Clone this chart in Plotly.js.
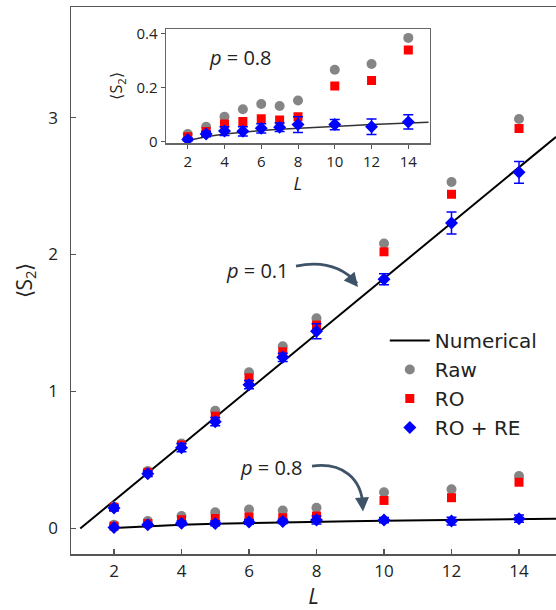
<!DOCTYPE html>
<html>
<head>
<meta charset="utf-8">
<script src="https://cdn.plot.ly/plotly-3.0.1.min.js"></script>
<style>html,body{margin:0;padding:0;background:#fff}#chart{width:556px;height:610px}</style>
</head>
<body>
<div id="chart"></div>
<script>
// ---- data ----
var L = [2, 3, 4, 5, 6, 7, 8, 10, 12, 14];

// p = 0.1
var raw01  = [0.16, 0.42, 0.62, 0.86, 1.14, 1.33, 1.535, 2.08, 2.53, 2.99];
var ro01   = [0.155, 0.41, 0.61, 0.82, 1.10, 1.29, 1.485, 2.02, 2.44, 2.92];
var rore01 = [0.15, 0.40, 0.59, 0.78, 1.05, 1.25, 1.44, 1.82, 2.23, 2.60];
var err01  = [0.02, 0.02, 0.03, 0.03, 0.03, 0.03, 0.055, 0.04, 0.08, 0.08];
var numL01 = [1.0, 15.1];
var num01  = [0.0, 2.86];

// p = 0.8
var raw08  = [0.027, 0.054, 0.091, 0.119, 0.138, 0.131, 0.151, 0.265, 0.286, 0.383];
var ro08   = [0.017, 0.036, 0.064, 0.073, 0.084, 0.079, 0.091, 0.205, 0.225, 0.338];
var rore08 = [0.007, 0.027, 0.038, 0.037, 0.048, 0.052, 0.062, 0.062, 0.054, 0.072];
var err08  = [0.005, 0.010, 0.016, 0.017, 0.017, 0.016, 0.029, 0.019, 0.029, 0.026];
var numL08 = [2, 3, 4, 5, 6, 7, 8, 9, 10, 11, 12, 13, 14, 15.1];
var num08  = [0.003, 0.017, 0.027, 0.034, 0.040, 0.045, 0.049, 0.053, 0.056, 0.059, 0.062, 0.065, 0.068, 0.071];

var xTicks = [2, 4, 6, 8, 10, 12, 14];
var yTicksMain = [0, 1, 2, 3];
var yTicksInset = [0, 0.2, 0.4];
var yTickTextInset = ['0', '0.2', '0.4'];

// ---- styles ----
var FONT = 'Open Sans, Roboto, sans-serif';
var LEGFONT = 'DejaVu Sans, Open Sans, sans-serif';
var TXT = '#222';
var GRAY = '#858585', RED = '#ff0000', BLUE = '#0000ff';

function lineTrace(x, y, xa, ya, show, w, col) {
  return {x: x, y: y, xaxis: xa, yaxis: ya, type: 'scatter', mode: 'lines',
    line: {color: col, width: w}, name: 'Numerical', legendgroup: 'num', showlegend: show, hoverinfo: 'skip'};
}
function ptTrace(y, xa, ya, show, name, sym, col, size, err) {
  var t = {x: L, y: y, xaxis: xa, yaxis: ya, type: 'scatter', mode: 'markers', name: name,
    legendgroup: name, showlegend: show,
    marker: {symbol: sym, color: col, size: size, line: {width: 0}}};
  if (err) t.error_y = {type: 'data', array: err, visible: true, color: BLUE, thickness: 1.5, width: 5};
  return t;
}

var data = [
  lineTrace(numL01, num01, 'x', 'y', true, 2, '#000'),
  lineTrace(numL08, num08, 'x', 'y', false, 2, '#000'),
  ptTrace(raw01, 'x', 'y', true, 'Raw', 'circle', GRAY, 10),
  ptTrace(raw08, 'x', 'y', false, 'Raw', 'circle', GRAY, 10),
  ptTrace(ro01, 'x', 'y', true, 'RO', 'square', RED, 9),
  ptTrace(ro08, 'x', 'y', false, 'RO', 'square', RED, 9),
  ptTrace(rore01, 'x', 'y', true, 'RO + RE', 'diamond', BLUE, 10, err01),
  ptTrace(rore08, 'x', 'y', false, 'RO + RE', 'diamond', BLUE, 10, err08),
  // inset
  lineTrace(numL08, num08, 'x2', 'y2', false, 1.5, '#333'),
  ptTrace(raw08, 'x2', 'y2', false, 'Raw', 'circle', GRAY, 10),
  ptTrace(ro08, 'x2', 'y2', false, 'RO', 'square', RED, 9),
  ptTrace(rore08, 'x2', 'y2', false, 'RO + RE', 'diamond', BLUE, 10, err08)
];

var ARROW = '#3f5368';
var layout = {
  width: 556, height: 610,
  margin: {l: 71, r: 0, t: 7, b: 56},
  paper_bgcolor: '#fff', plot_bgcolor: 'rgba(0,0,0,0)',
  font: {family: FONT, color: TXT, size: 17},
  showlegend: true,
  legend: {x: 0.647, y: 0.426, xanchor: 'left', yanchor: 'top', bgcolor: 'rgba(255,255,255,0)',
    font: {family: LEGFONT, size: 20, color: TXT}, traceorder: 'normal', itemwidth: 40},
  xaxis: {domain: [0, 1], range: [0.726, 15.096], tickvals: xTicks, ticks: 'inside', ticklen: 5,
    tickcolor: '#555', tickwidth: 1.2, showline: true, linecolor: '#555', linewidth: 1.5, mirror: true,
    showgrid: false, zeroline: false, tickfont: {size: 17, color: TXT}, ticklabelstandoff: 1,
    title: {text: '<i>L</i>', font: {size: 22, color: TXT}, standoff: 4}},
  yaxis: {domain: [0, 1], range: [-0.186, 3.807], tickvals: yTicksMain, ticks: 'inside', ticklen: 5,
    tickcolor: '#555', tickwidth: 1.2, showline: true, linecolor: '#555', linewidth: 1.5, mirror: false,
    showgrid: false, zeroline: false, tickfont: {size: 17, color: TXT}, ticklabelstandoff: 8,
    title: {text: '⟨S<sub>2</sub>⟩', font: {size: 21, color: TXT}, standoff: 10}},
  xaxis2: {anchor: 'y2', domain: [0.1953, 0.7402], range: [0.803, 15.18], tickvals: xTicks,
    ticks: 'outside', ticklen: 4, tickcolor: '#555', showline: true, linecolor: '#666', linewidth: 1.2,
    mirror: true, showgrid: false, zeroline: false, tickfont: {size: 15, color: TXT},
    title: {text: '<i>L</i>', font: {size: 18, color: TXT}, standoff: 6}},
  yaxis2: {anchor: 'x2', domain: [0.7508, 0.9603], range: [-0.0074, 0.417], tickvals: yTicksInset,
    ticktext: yTickTextInset, ticks: 'outside', ticklen: 4, tickcolor: '#555', showline: true,
    linecolor: '#666', linewidth: 1.2, mirror: true, showgrid: false, zeroline: false,
    tickfont: {size: 15, color: TXT}, title: {text: '⟨S<sub>2</sub>⟩', font: {size: 16, color: TXT}, standoff: 9}},
  shapes: [
    {type: 'path', xref: 'x', yref: 'y', path: 'M 7.393 1.916 Q 8.548 1.974 9.20 1.79',
      line: {color: ARROW, width: 2.8}},
    {type: 'path', xref: 'x', yref: 'y', path: 'M 7.867 0.456 C 8.756 0.485 9.348 0.369 9.375 0.16',
      line: {color: ARROW, width: 2.8}}
  ],
  annotations: [
    {xref: 'x', yref: 'y', x: 6.237, y: 1.887, text: '<i>p</i> = 0.1', showarrow: false,
      font: {size: 20, color: TXT}},
    {xref: 'x', yref: 'y', x: 6.652, y: 0.442, text: '<i>p</i> = 0.8', showarrow: false,
      font: {size: 20, color: TXT}},
    {xref: 'x2', yref: 'y2', x: 4.87, y: 0.312, text: '<i>p</i> = 0.8', showarrow: false,
      font: {size: 20, color: TXT}},
    {xref: 'x', yref: 'y', x: 9.23, y: 1.763, ax: -9, ay: -11, text: '', showarrow: true,
      arrowhead: 2, arrowsize: 1, arrowwidth: 2.8, arrowcolor: ARROW},
    {xref: 'x', yref: 'y', x: 9.378, y: 0.125, ax: -1, ay: -14, text: '', showarrow: true,
      arrowhead: 2, arrowsize: 1, arrowwidth: 2.8, arrowcolor: ARROW}
  ]
};

Plotly.newPlot('chart', data, layout, {displayModeBar: false, staticPlot: true});
</script>
</body>
</html>
